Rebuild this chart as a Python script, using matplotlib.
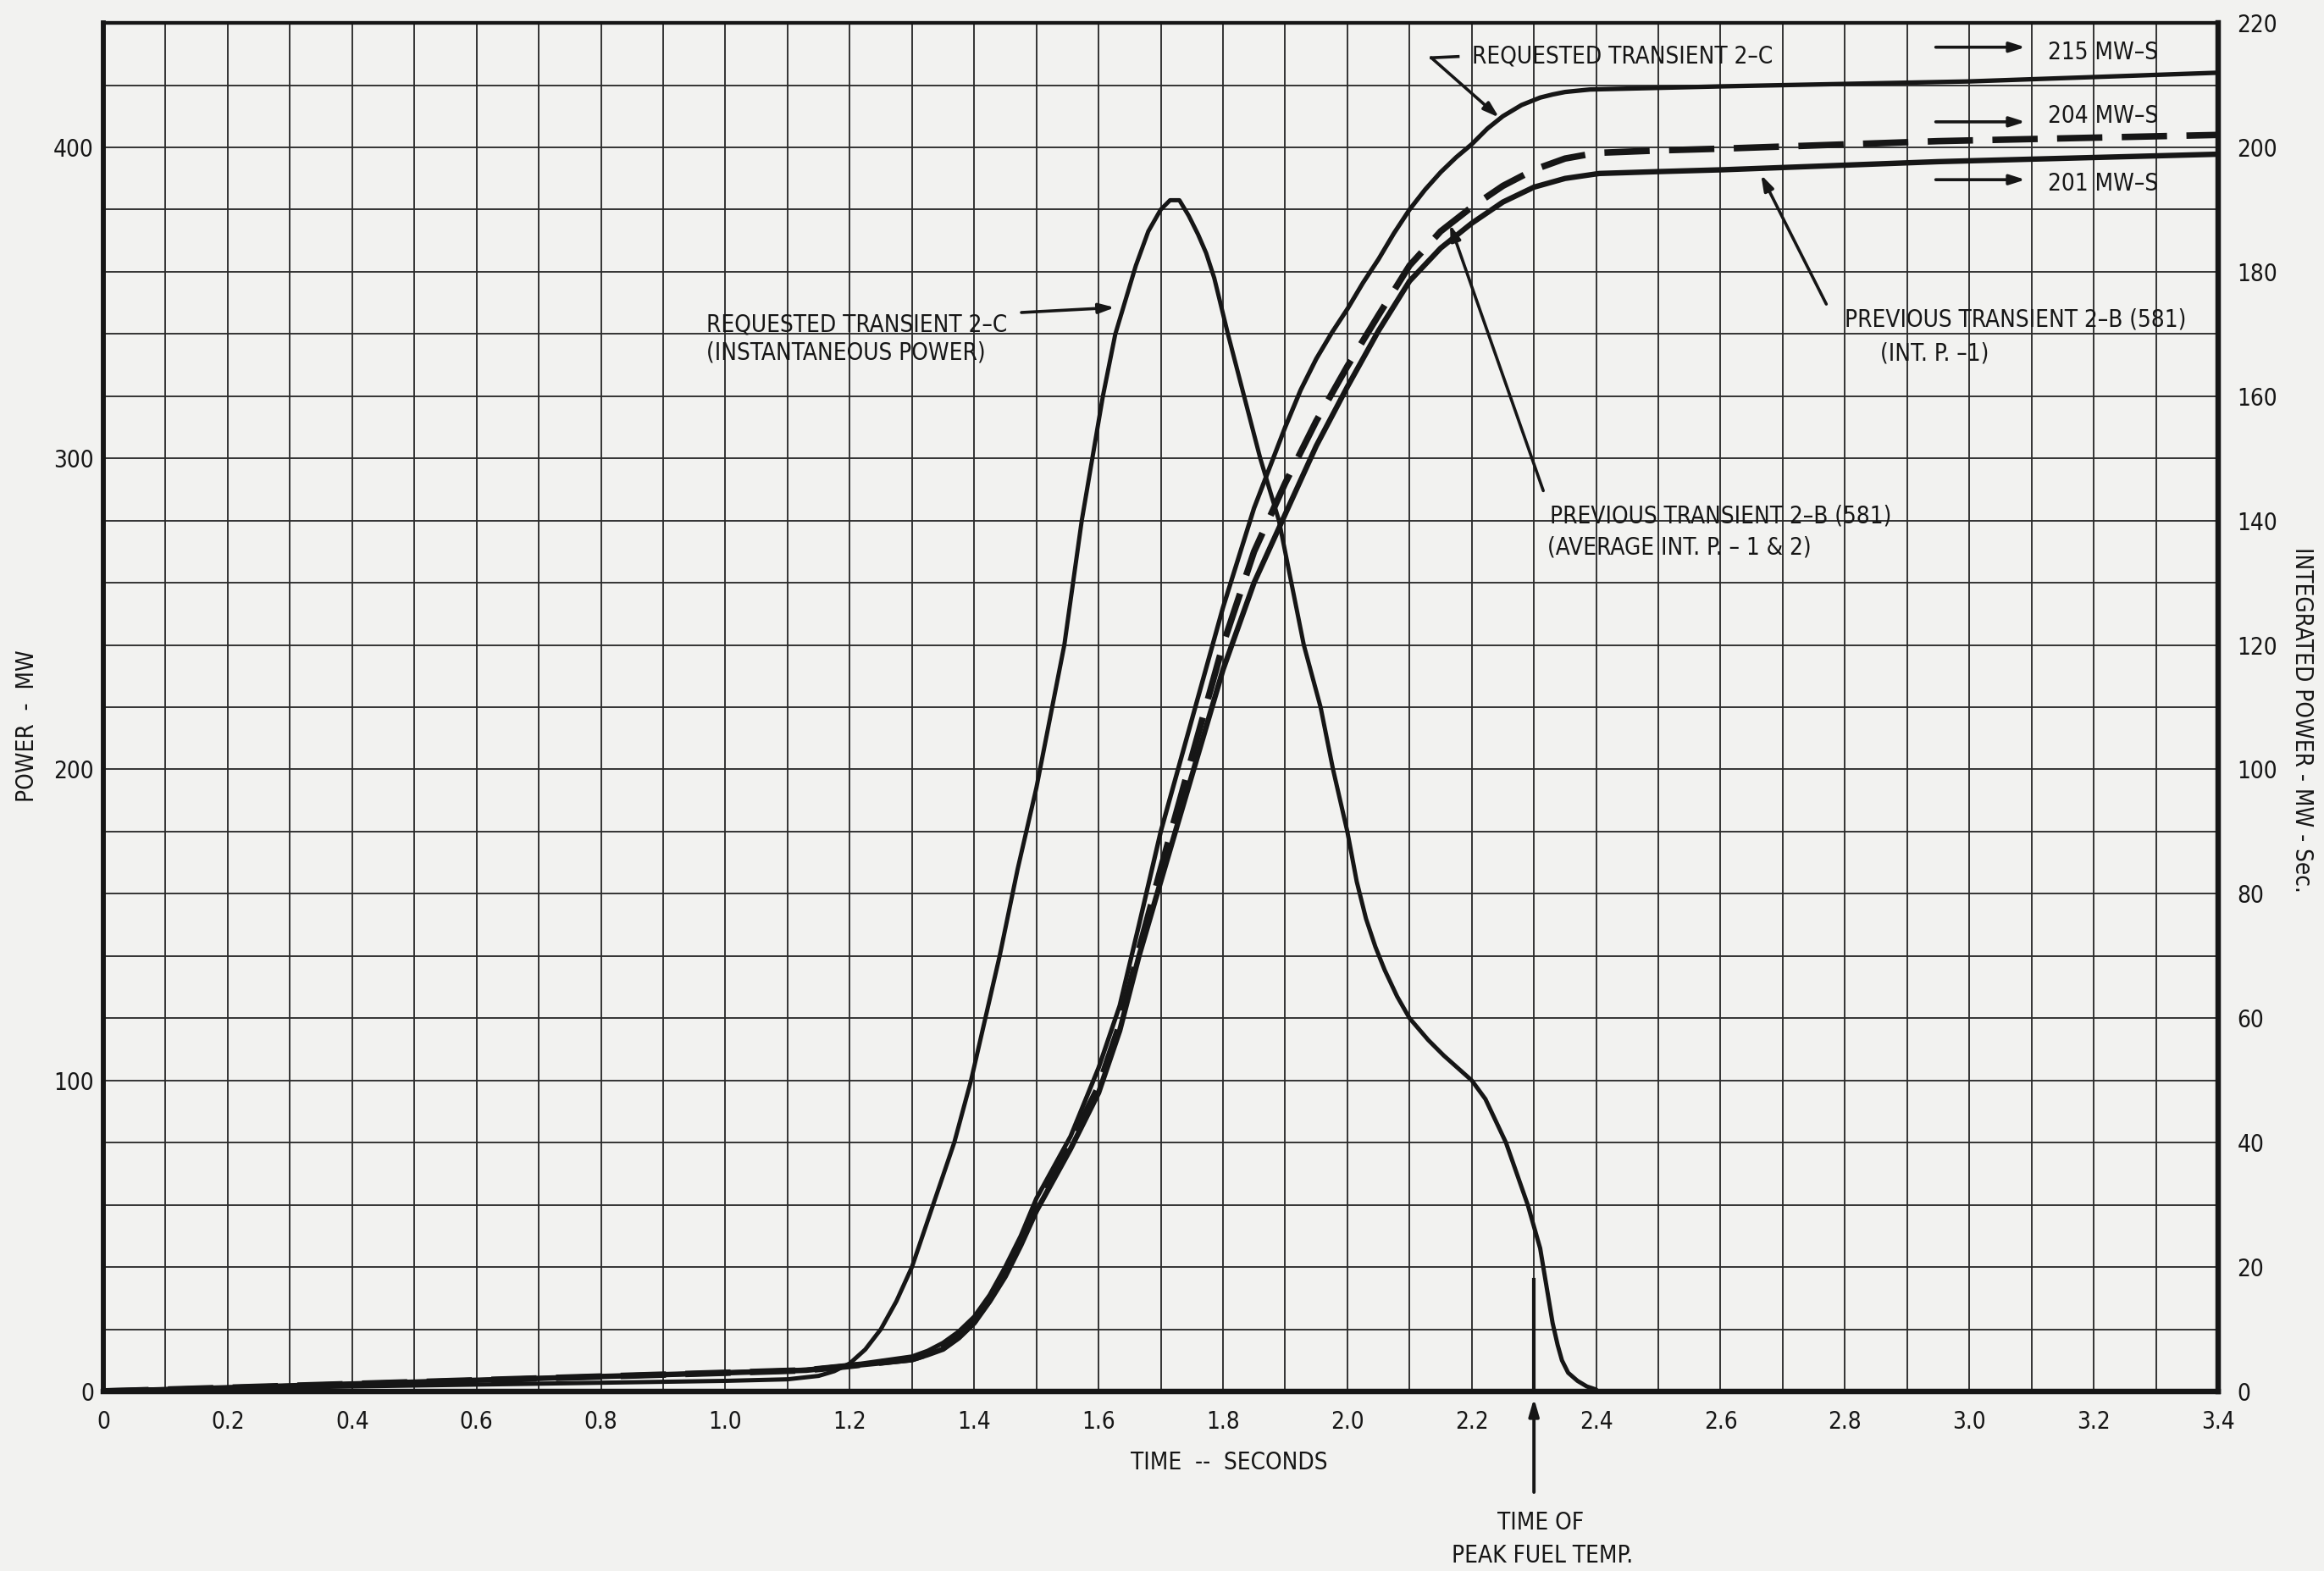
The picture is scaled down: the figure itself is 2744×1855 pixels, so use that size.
import matplotlib
matplotlib.use("Agg")
import matplotlib.pyplot as plt
from matplotlib import font_manager
import numpy as np

# ---------------- data ----------------
# Requested transient 2-C, instantaneous power (MW, left axis)
time_inst = [0.0, 0.2, 0.4, 0.6, 0.8, 1.0, 1.1, 1.15, 1.175, 1.2, 1.225, 1.25, 1.275,
             1.3, 1.334, 1.368, 1.395, 1.418, 1.441, 1.47, 1.5, 1.545, 1.573, 1.59,
             1.607, 1.627, 1.645, 1.66, 1.68, 1.70, 1.715, 1.73, 1.745, 1.76, 1.773,
             1.786, 1.808, 1.834, 1.86, 1.89, 1.91, 1.93, 1.957, 1.977, 2.0, 2.015,
             2.03, 2.045, 2.06, 2.08, 2.1, 2.13, 2.155, 2.2, 2.222, 2.255, 2.29, 2.31,
             2.32, 2.33, 2.338, 2.345, 2.355, 2.37, 2.385, 2.40]
power_inst = [0.4, 1.0, 1.6, 2.2, 2.8, 3.4, 3.9, 5.0, 6.5, 9.0, 13.5, 20, 29,
              40, 60, 80, 100, 120, 140, 168, 194, 240, 280, 300,
              320, 340, 352, 362, 373, 380, 383, 383, 378, 372, 366,
              358, 340, 320, 300, 280, 260, 240, 220, 200, 180, 164,
              152, 143, 135.5, 127, 120, 113, 108, 100, 94, 80, 60, 46,
              34, 22, 15, 10, 6, 3.4, 1.6, 0.6]

# Requested transient 2-C, integrated power (MW-s, right axis)
time_req = [0.0, 0.5, 1.0, 1.13, 1.2, 1.3, 1.325, 1.35, 1.375, 1.4, 1.425, 1.45,
            1.475, 1.5, 1.555, 1.6, 1.634, 1.665, 1.70, 1.75, 1.80, 1.85, 1.90,
            1.925, 1.95, 1.975, 2.00, 2.025, 2.05, 2.075, 2.10, 2.125, 2.15, 2.175,
            2.20, 2.225, 2.25, 2.28, 2.31, 2.33, 2.35, 2.37, 2.39, 2.6, 3.0, 3.4]
int_req = [0.0, 1.5, 3.0, 3.5, 4.2, 5.6, 6.5, 7.8, 9.6, 12.0, 15.5, 20.0,
           25.0, 31.0, 41.0, 52.0, 62.0, 75.0, 90.0, 108.0, 126.0, 142.0, 155.0,
           161.0, 166.0, 170.2, 174.0, 178.2, 182.0, 186.2, 190.0, 193.2, 196.0, 198.4,
           200.5, 203.0, 205.0, 206.8, 208.0, 208.5, 208.9, 209.1, 209.3, 209.8, 210.6,
           212.0]

# Previous transient 2-B (581), average int. P. 1 & 2 (dashed)
time_prev_avg = [0.0, 0.5, 1.0, 1.13, 1.2, 1.3, 1.325, 1.35, 1.375, 1.4, 1.425, 1.45,
                 1.475, 1.5, 1.555, 1.6, 1.634, 1.665, 1.70, 1.75, 1.80, 1.85, 1.90,
                 1.95, 2.00, 2.05, 2.10, 2.15, 2.20, 2.25, 2.30, 2.35, 2.40, 2.50,
                 2.605, 2.95, 3.4]
int_prev_avg = [0.0, 1.5, 3.0, 3.4, 4.1, 5.2, 6.0, 7.0, 8.8, 11.2, 14.8, 19.0,
                24.0, 29.5, 40.0, 49.0, 59.0, 71.0, 84.0, 102.0, 120.0, 135.0, 146.0,
                156.0, 164.8, 173.0, 181.0, 186.5, 190.4, 193.8, 196.4, 198.2, 199.1,
                199.5, 199.8, 201.0, 202.0]

# Previous transient 2-B (581), int. P. 1 (solid)
time_prev_1 = [0.0, 0.5, 1.0, 1.13, 1.2, 1.3, 1.325, 1.35, 1.375, 1.4, 1.425, 1.45,
               1.475, 1.5, 1.555, 1.6, 1.634, 1.665, 1.70, 1.75, 1.80, 1.85, 1.90,
               1.95, 2.00, 2.05, 2.10, 2.15, 2.20, 2.25, 2.30, 2.35, 2.405, 2.50,
               2.605, 2.95, 3.4]
int_prev_1 = [0.0, 1.5, 3.0, 3.4, 4.1, 5.1, 5.9, 6.8, 8.6, 11.0, 14.5, 18.5,
              23.5, 29.0, 39.0, 48.0, 58.0, 70.0, 82.0, 99.0, 116.0, 130.0, 141.0,
              152.0, 161.5, 170.5, 178.5, 183.8, 187.8, 191.2, 193.6, 195.0, 195.8,
              196.1, 196.4, 197.7, 198.9]

# end values quoted on the chart
end_labels = ["215 MW\u2013S", "204 MW\u2013S", "201 MW\u2013S"]
end_label_levels = [215.3, 205.0, 194.1]
end_arrow_levels = [216.1, 204.1, 194.8]

PEAK_FUEL_TIME = 2.30

x_major = [0.0, 0.2, 0.4, 0.6, 0.8, 1.0, 1.2, 1.4, 1.6, 1.8, 2.0, 2.2, 2.4, 2.6,
           2.8, 3.0, 3.2, 3.4]
x_labels = ["0", "0.2", "0.4", "0.6", "0.8", "1.0", "1.2", "1.4", "1.6", "1.8",
            "2.0", "2.2", "2.4", "2.6", "2.8", "3.0", "3.2", "3.4"]
left_ticks = [0, 100, 200, 300, 400]
right_ticks = [0, 20, 40, 60, 80, 100, 120, 140, 160, 180, 200, 220]

# ---------------- fonts ----------------
names = {f.name for f in font_manager.fontManager.ttflist}
if "Liberation Sans Narrow" in names:
    plt.rcParams["font.family"] = ["Liberation Sans Narrow", "DejaVu Sans"]
    STRETCH = "normal"
else:
    plt.rcParams["font.family"] = ["DejaVu Sans"]
    STRETCH = "condensed"
plt.rcParams["font.stretch"] = STRETCH
FS = 20
INK = "#161616"
BG = "#f2f2f0"

fig = plt.figure(figsize=(27.44, 18.55), dpi=100, facecolor=BG)
ax = fig.add_axes([0.04446, 0.1143, 0.9100, 0.8711])
ax.set_facecolor(BG)
ax2 = ax.twinx()

ax.set_xlim(0, 3.4)
ax.set_ylim(0, 440)
ax2.set_ylim(0, 220)

# grid
ax.set_xticks(x_major)
ax.set_xticklabels(x_labels, fontsize=FS, color=INK)
ax.set_xticks(np.arange(0, 3.41, 0.1), minor=True)
ax.set_yticks(left_ticks)
ax.set_yticklabels([str(v) for v in left_ticks], fontsize=FS, color=INK)
ax.set_yticks(np.arange(0, 441, 20), minor=True)
ax2.set_yticks(right_ticks)
ax2.set_yticklabels([str(v) for v in right_ticks], fontsize=FS, color=INK)
ax.grid(True, which="both", color="#2c2c2c", linewidth=1.35, linestyle="-")
ax.set_axisbelow(True)
ax.tick_params(axis="x", which="both", length=0, pad=16)
ax.tick_params(axis="y", which="both", length=0, pad=8)
ax2.tick_params(axis="y", which="both", length=0, pad=16)

for a in (ax, ax2):
    for s in a.spines.values():
        s.set_color(INK)
    a.spines["left"].set_linewidth(4.0)
    a.spines["right"].set_linewidth(4.5)
    a.spines["bottom"].set_linewidth(4.5)
    a.spines["top"].set_linewidth(3.0)

# curves
ax.plot(time_inst, power_inst, color=INK, lw=3.6, solid_capstyle="round",
        solid_joinstyle="round", zorder=5)
ax2.plot(time_req, int_req, color=INK, lw=3.8, solid_joinstyle="round", zorder=5)
ax2.plot(time_prev_avg, int_prev_avg, color=INK, lw=5.5, dashes=(7, 3), zorder=5)
ax2.plot(time_prev_1, int_prev_1, color=INK, lw=4.6, solid_joinstyle="round", zorder=5)

# thick marker at time of peak fuel temperature
ax.plot([PEAK_FUEL_TIME, PEAK_FUEL_TIME], [0, 36], color=INK, lw=3.0, zorder=4)

# ---------------- annotations ----------------
tkw = dict(fontsize=FS, color=INK)
arrow = dict(arrowstyle="-|>,head_length=1.1,head_width=0.35", color=INK, lw=2.6,
             shrinkA=0, shrinkB=0)

ax.text(0.969, 338.5, "REQUESTED TRANSIENT 2\u2013C\n(INSTANTANEOUS POWER)",
        ha="left", va="center", linespacing=1.25, **tkw)
ax.annotate("", xy=(1.626, 348.5), xytext=(1.476, 346.9), arrowprops=arrow)

# requested 2-C integrated label with hooked leader
ax2.text(2.20, 214.6, "REQUESTED TRANSIENT 2\u2013C", ha="left", va="center", **tkw)
ax2.plot([2.135, 2.178], [214.4, 214.6], color=INK, lw=2.6)
ax2.annotate("", xy=(2.244, 204.8), xytext=(2.135, 214.4), arrowprops=arrow)

# end-value arrows and labels
for lab, ly, ay in zip(end_labels, end_label_levels, end_arrow_levels):
    ax2.annotate("", xy=(3.09, ay), xytext=(2.946, ay), arrowprops=arrow)
    ax2.text(3.126, ly, lab, ha="left", va="center", **tkw)

# previous transient (int P-1)
ax2.text(2.80, 172.3, "PREVIOUS TRANSIENT 2\u2013B (581)", ha="left", va="center", **tkw)
ax2.text(2.857, 166.9, "(INT. P. \u20131)", ha="left", va="center", **tkw)
ax2.annotate("", xy=(2.665, 195.6), xytext=(2.770, 174.8), arrowprops=arrow)

# previous transient (average)
ax2.text(2.325, 140.7, "PREVIOUS TRANSIENT 2\u2013B (581)", ha="left", va="center", **tkw)
ax2.text(2.322, 135.7, "(AVERAGE INT. P. \u2013 1 & 2)", ha="left", va="center", **tkw)
ax2.annotate("", xy=(2.165, 187.6), xytext=(2.315, 144.8), arrowprops=arrow)

# axis titles
fig.text(0.529, 0.069, "TIME  --  SECONDS", ha="center", va="center", **tkw)
fig.text(0.0115, 0.538, "POWER  -  MW", ha="center", va="center", rotation=90, **tkw)
fig.text(0.9905, 0.542, "INTEGRATED POWER - MW - Sec.", ha="center", va="center",
         rotation=270, **tkw)

# time of peak fuel temperature
ax.annotate("", xy=(PEAK_FUEL_TIME, -0.005), xycoords=("data", "axes fraction"),
            xytext=(PEAK_FUEL_TIME, 1 - 1762 / 1855),
            textcoords=("data", "figure fraction"),
            arrowprops=dict(arrowstyle="-|>,head_length=1.2,head_width=0.35",
                            color=INK, lw=2.8, shrinkA=0, shrinkB=0),
            annotation_clip=False)
fig.text(0.6629, 1 - 1798 / 1855, "TIME OF", ha="center", va="center", **tkw)
fig.text(0.6636, 1 - 1837 / 1855, "PEAK FUEL TEMP.", ha="center", va="center", **tkw)

fig.savefig("out.png", dpi=100, facecolor=BG)
